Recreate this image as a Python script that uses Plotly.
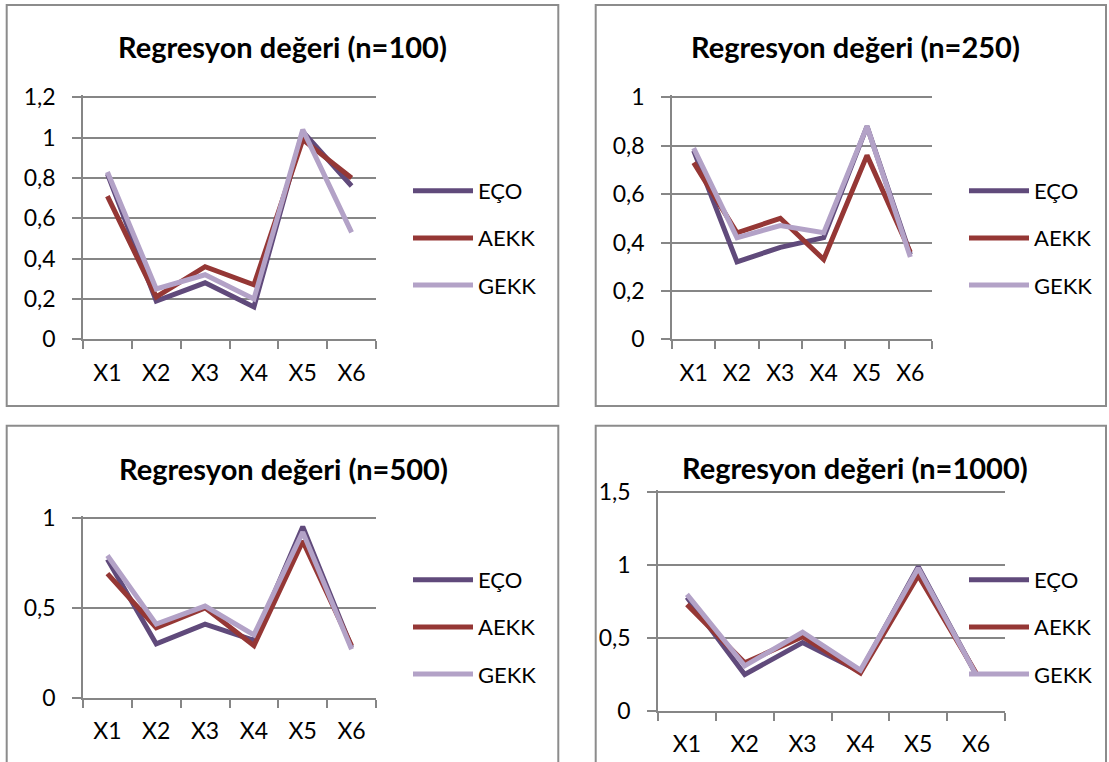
import plotly.graph_objects as go

W, H = 1109, 762

categories = ["X1", "X2", "X3", "X4", "X5", "X6"]
series_names = ["EÇO", "AEKK", "GEKK"]
series_colors = ["#604A7B", "#953735", "#B3A2C7"]

titles = [
    "Regresyon değeri (n=100)",
    "Regresyon değeri (n=250)",
    "Regresyon değeri (n=500)",
    "Regresyon değeri (n=1000)",
]

# regression values per sample size: [EÇO, AEKK, GEKK]
n100 = [
    [0.82, 0.19, 0.28, 0.16, 1.03, 0.76],
    [0.71, 0.21, 0.36, 0.27, 0.99, 0.80],
    [0.83, 0.25, 0.32, 0.20, 1.04, 0.53],
]
n250 = [
    [0.78, 0.32, 0.38, 0.42, 0.88, 0.35],
    [0.73, 0.44, 0.50, 0.33, 0.76, 0.36],
    [0.79, 0.42, 0.47, 0.44, 0.88, 0.34],
]
n500 = [
    [0.77, 0.30, 0.41, 0.32, 0.95, 0.28],
    [0.69, 0.39, 0.50, 0.29, 0.87, 0.29],
    [0.79, 0.41, 0.51, 0.35, 0.92, 0.27],
]
n1000 = [
    [0.78, 0.25, 0.47, 0.27, 0.99, 0.25],
    [0.73, 0.33, 0.51, 0.26, 0.93, 0.26],
    [0.80, 0.31, 0.54, 0.28, 0.98, 0.25],
]
panel_data = [n100, n250, n500, n1000]

y_ranges = [(0, 1.2), (0, 1.0), (0, 1.0), (0, 1.5)]
y_dticks = [0.2, 0.2, 0.5, 0.5]

# panel geometry in pixels: plot area (x0, x1, y of top tick, y of zero), frame, title, legend
plot_px = [
    (83, 376, 97.3, 339.3),
    (672, 932, 97.3, 339.3),
    (83, 376, 517.7, 698.0),
    (658, 1005, 492.3, 711.0),
]
frame_px = [
    (6.7, 5, 558.3, 406),
    (595.7, 5, 1106, 406),
    (6.7, 425.7, 558.3, 775),
    (595.7, 425.7, 1106, 775),
]
title_px = [(282, 47), (855, 46), (283, 468), (855, 467)]
legend_px = [(408, 170), (964, 170), (408, 559), (964, 559)]

GRID = "#868686"
FONT = "Lato"
TOP_PAD = 0.01  # small headroom so the top gridline stays inside the range

fig = go.Figure()
legend_names = ["legend", "legend2", "legend3", "legend4"]

for p in range(4):
    sfx = "" if p == 0 else str(p + 1)
    xa, ya = "x" + sfx, "y" + sfx
    for s in range(3):
        fig.add_trace(go.Scatter(
            x=categories, y=panel_data[p][s], mode="lines",
            name=series_names[s],
            line=dict(color=series_colors[s], width=5),
            xaxis=xa, yaxis=ya,
            legend=legend_names[p],
            legendgroup=f"p{p}s{s}",
        ))

    x0, x1, yt, yb = plot_px[p]
    lo, hi = y_ranges[p]
    pad = hi * TOP_PAD
    yt_ext = yt - (yb - yt) * TOP_PAD
    fig.layout["xaxis" + sfx] = dict(
        domain=[x0 / W, x1 / W], anchor=ya, automargin=False,
        type="category", range=[-0.5, 5.5],
        showgrid=False, showline=True, linecolor=GRID, linewidth=1.5,
        ticks="outside", tickson="boundaries", ticklen=8, tickcolor=GRID,
        tickwidth=1.5, ticklabelstandoff=12,
        tickfont=dict(family=FONT, size=23, color="#000000"),
        fixedrange=True,
    )
    fig.layout["yaxis" + sfx] = dict(
        domain=[1 - yb / H, 1 - yt_ext / H], anchor=xa, automargin=False,
        range=[lo, hi + pad], dtick=y_dticks[p], tick0=0,
        showgrid=True, gridcolor=GRID, gridwidth=1.5,
        showline=True, linecolor=GRID, linewidth=1.5,
        ticks="outside", ticklen=9, tickcolor=GRID, tickwidth=1.5,
        ticklabelstandoff=12, zeroline=False,
        tickfont=dict(family=FONT, size=23, color="#000000"),
        fixedrange=True,
    )

    lx, ly = legend_px[p]
    fig.layout[legend_names[p]] = dict(
        x=lx / W, y=1 - ly / H, xanchor="left", yanchor="top",
        bgcolor="rgba(0,0,0,0)", borderwidth=0,
        font=dict(family=FONT, size=22, color="#000000"),
        tracegroupgap=15.5, itemwidth=60,
    )

    fx0, fy0, fx1, fy1 = frame_px[p]
    fig.add_shape(type="rect", xref="paper", yref="paper",
                  x0=fx0 / W, x1=fx1 / W, y0=1 - fy1 / H, y1=1 - fy0 / H,
                  line=dict(color="#8C8C8C", width=2), layer="below")

    tx, ty = title_px[p]
    fig.add_annotation(text="<b>" + titles[p] + "</b>", xref="paper", yref="paper",
                       x=tx / W, y=1 - ty / H, xanchor="center", yanchor="middle",
                       showarrow=False,
                       font=dict(family=FONT, size=29, color="#000000"))

fig.update_layout(
    width=W, height=H,
    margin=dict(l=0, r=0, t=0, b=0, autoexpand=False),
    paper_bgcolor="#FFFFFF", plot_bgcolor="rgba(0,0,0,0)",
    separators=", ",
    showlegend=True,
)

fig.write_html("out.html", config={"displayModeBar": False})
